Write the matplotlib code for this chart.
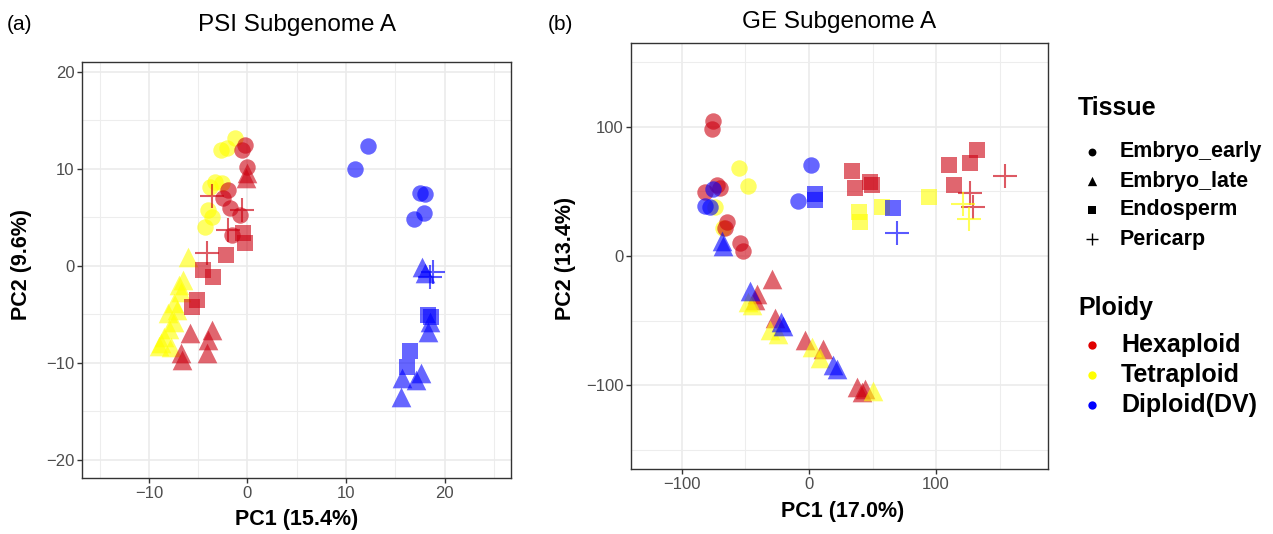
import numpy as np
import matplotlib.pyplot as plt
from matplotlib.ticker import MultipleLocator

plt.rcParams['font.family'] = ['Liberation Sans', 'DejaVu Sans']

tissues = ['Embryo_early', 'Embryo_late', 'Endosperm', 'Pericarp']
ploidies = ['Hexaploid', 'Tetraploid', 'Diploid(DV)']

# PSI subgenome A (tissue index, ploidy index per point)
psi_pc1 = [-6.0, -6.5, -7.0, -6.8, -7.5, -7.2, -8.1, -7.5, -8.0, -8.5, -8.8, -7.8, -9.0,
           -0.5, -0.3, -2.2, -3.5, -4.5, -5.1, -5.6,
           -1.3, -2.1, -2.7, -3.3, -2.6, -3.8, -4.0, -3.6, -4.3,
           -0.3, -0.6, 0.0, -2.0, -2.5, -1.8, -0.8, -1.6,
           0.0, -0.2, -5.8, -3.6, -4.0, -4.1, -6.8, -6.6,
           -3.6, -0.6, -2.0, -4.1,
           12.2, 10.9, 17.5, 18.0, 17.9, 16.9,
           17.7, 18.0, 18.3, 18.5, 15.7, 17.6, 17.1, 15.6,
           18.3, 18.6, 16.5, 16.2,
           18.8, 18.5]
psi_pc2 = [0.9, -1.4, -2.0, -2.7, -3.8, -4.5, -4.8, -5.8, -6.5, -7.3, -7.9, -8.4, -8.2,
           3.4, 2.4, 1.1, -1.1, -0.4, -3.5, -4.2,
           13.2, 12.2, 12.0, 8.7, 8.6, 8.1, 5.8, 5.1, 4.0,
           12.5, 12.0, 10.2, 7.8, 7.0, 6.0, 5.3, 3.2,
           9.6, 9.1, -6.9, -6.6, -7.6, -9.0, -9.0, -9.7,
           7.2, 5.8, 3.7, 1.3,
           12.4, 10.0, 7.5, 7.4, 5.5, 4.8,
           -0.1, -0.7, -6.8, -5.8, -11.5, -11.0, -11.8, -13.5,
           -5.1, -5.3, -8.8, -10.4,
           -0.6, -1.1]
psi_tissue = [1] * 13 + [2] * 7 + [0] * 9 + [0] * 8 + [1] * 8 + [3] * 4 + \
             [0] * 6 + [1] * 8 + [2] * 4 + [3] * 2
psi_ploidy = [1] * 13 + [0] * 7 + [1] * 9 + [0] * 8 + [0] * 8 + [0] * 4 + \
             [2] * 6 + [2] * 8 + [2] * 4 + [2] * 2

# GE subgenome A
ge_pc1 = [-55.1, -48.0, -74.0, -67.7,
          -75.6, -76.4, -81.9, -72.4, -70.1, -64.6, -66.1, -54.3, -52.0,
          -75.6, -81.9, -78.0, 1.6, -8.7,
          -29.1, -40.9, -42.5, -26.8, -3.1, 11.0, 37.8, 41.7, 44.1,
          -48.0, -44.9, -30.7, -24.4, 2.4, 8.7, 50.4,
          -68.5, -67.7, -46.5, -20.5, -22.0, 18.9, 22.0,
          33.9, 36.2, 48.0, 49.6, 110.2, 114.2, 126.8, 132.3,
          39.4, 40.2, 57.5, 94.5,
          4.7, 4.7, 66.1,
          126.8, 129.1, 154.3,
          121.3, 126.0,
          69.3]
ge_pc2 = [67.6, 53.7, 37.5, 22.0,
          103.9, 97.7, 49.8, 55.2, 52.9, 25.9, 22.0, 10.4, 3.5,
          52.1, 39.0, 37.5, 69.9, 42.1,
          -18.1, -29.7, -33.6, -47.5, -64.5, -72.2, -100.8, -105.4, -103.1,
          -35.9, -38.2, -56.8, -60.6, -69.9, -78.4, -104.6,
          11.2, 8.1, -27.4, -54.4, -51.0, -83.8, -87.6,
          65.3, 52.9, 57.5, 55.2, 69.9, 55.2, 72.2, 81.5,
          33.6, 26.6, 37.5, 45.2,
          47.5, 43.6, 36.7,
          49.0, 38.2, 61.4,
          40.5, 28.2,
          17.4]
ge_tissue = [0] * 4 + [0] * 9 + [0] * 5 + [1] * 9 + [1] * 7 + [1] * 7 + \
            [2] * 8 + [2] * 4 + [2] * 3 + [3] * 3 + [3] * 2 + [3] * 1
ge_ploidy = [1] * 4 + [0] * 9 + [2] * 5 + [0] * 9 + [1] * 7 + [2] * 7 + \
            [0] * 8 + [1] * 4 + [2] * 3 + [0] * 3 + [1] * 2 + [2] * 1

ploidy_colors = ['#CC0010', '#FFFF00', '#0000FF']
legend_colors = ['#E00000', '#FFFF00', '#0000FF']
tissue_markers = ['o', '^', 's', '+']
tissue_sizes = [140, 200, 135, 280]

W, H = 1273, 534
fig = plt.figure(figsize=(W / 100, H / 100), dpi=100)


def px_box(left, top, right, bottom):
    return [left / W, 1 - bottom / H, (right - left) / W, (bottom - top) / H]


def style_axes(ax, xlim, ylim, major, minor):
    ax.set_xlim(*xlim)
    ax.set_ylim(*ylim)
    ax.xaxis.set_major_locator(MultipleLocator(major))
    ax.yaxis.set_major_locator(MultipleLocator(major))
    ax.xaxis.set_minor_locator(MultipleLocator(minor))
    ax.yaxis.set_minor_locator(MultipleLocator(minor))
    ax.grid(which='major', color='#EBEBEB', lw=1.2, zorder=0)
    ax.grid(which='minor', color='#EDEDED', lw=0.8, zorder=0)
    ax.set_axisbelow(True)
    ax.tick_params(which='major', length=3.5, width=1, color='#333333',
                   labelsize=12, labelcolor='#4D4D4D', pad=2)
    ax.tick_params(which='minor', length=0)
    for sp in ax.spines.values():
        sp.set_color('#333333')
        sp.set_linewidth(1.0)


def draw_points(ax, xs, ys, ts, ps):
    for x, y, t, p in zip(xs, ys, ts, ps):
        if tissue_markers[t] == '+':
            ax.scatter(x, y, marker='+', s=tissue_sizes[t], color=ploidy_colors[p],
                       alpha=0.65, linewidths=1.5, zorder=3)
        else:
            ax.scatter(x, y, marker=tissue_markers[t], s=tissue_sizes[t],
                       color=ploidy_colors[p], alpha=0.6, linewidths=0, zorder=3)


ax1 = fig.add_axes(px_box(82, 62, 511, 478))
style_axes(ax1, (-16.8, 26.75), (-21.86, 21.03), 10, 5)
draw_points(ax1, psi_pc1, psi_pc2, psi_tissue, psi_ploidy)

ax2 = fig.add_axes(px_box(631, 43, 1048, 469))
style_axes(ax2, (-140, 188), (-164.5, 164.5), 100, 50)
draw_points(ax2, ge_pc1, ge_pc2, ge_tissue, ge_ploidy)

# overlay in pixel coordinates for titles, labels and legend
ov = fig.add_axes([0, 0, 1, 1])
ov.set_xlim(0, W)
ov.set_ylim(H, 0)
ov.axis('off')

ov.text(20, 25, '(a)', fontsize=15, ha='center', va='center')
ov.text(560, 25, '(b)', fontsize=15, ha='center', va='center')
ov.text(297, 25, 'PSI Subgenome A', fontsize=17.5, ha='center', va='center')
ov.text(839, 22, 'GE Subgenome A', fontsize=17.5, ha='center', va='center')
ov.text(297, 520, 'PC1 (15.4%)', fontsize=15.5, fontweight='bold', ha='center', va='center')
ov.text(843, 512, 'PC1 (17.0%)', fontsize=15.5, fontweight='bold', ha='center', va='center')
ov.text(22, 265, 'PC2 (9.6%)', fontsize=15.5, fontweight='bold', ha='center',
        va='center', rotation=90)
ov.text(565, 258, 'PC2 (13.4%)', fontsize=15.5, fontweight='bold', ha='center',
        va='center', rotation=90)

# legend: tissue
ov.text(1078, 108, 'Tissue', fontsize=18, fontweight='bold', ha='left', va='center')
leg_sizes = [32, 45, 32, 75]
for i, name in enumerate(tissues):
    yy = 152 + i * 29
    ov.scatter(1092, yy, marker=tissue_markers[i], s=leg_sizes[i], color='black',
               linewidths=1.0 if tissue_markers[i] == '+' else 0)
    ov.text(1120, yy, name, fontsize=15.5, fontweight='bold', ha='left', va='center')

# legend: ploidy
ov.text(1078, 308, 'Ploidy', fontsize=18, fontweight='bold', ha='left', va='center')
for i, name in enumerate(ploidies):
    yy = 345 + i * 30
    ov.scatter(1092, yy, marker='o', s=36, color=legend_colors[i], linewidths=0)
    ov.text(1121, yy, name, fontsize=18, fontweight='bold', ha='left', va='center')

fig.savefig('out.png', dpi=100)
